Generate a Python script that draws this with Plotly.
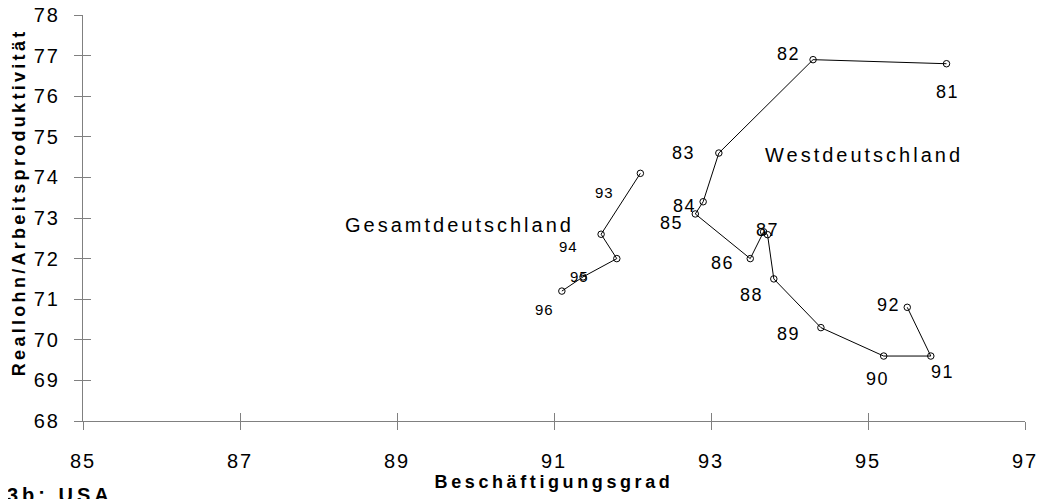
import plotly.graph_objects as go

# ---- data ----
west_years = ["81", "82", "83", "84", "85", "86", "87", "", "88", "89", "90", "91", "92"]
west_x = [96.0, 94.3, 93.1, 92.9, 92.8, 93.5, 93.67, 93.72, 93.8, 94.4, 95.2, 95.8, 95.5]
west_y = [76.8, 76.9, 74.6, 73.4, 73.1, 72.0, 72.66, 72.59, 71.5, 70.3, 69.6, 69.6, 70.8]

gesamt_years = ["93", "94", "", "95", "96"]
gesamt_x = [92.1, 91.6, 91.8, 91.37, 91.1]
gesamt_y = [74.1, 72.6, 72.0, 71.55, 71.2]

x_ticks = [85, 87, 89, 91, 93, 95, 97]
y_ticks = [68, 69, 70, 71, 72, 73, 74, 75, 76, 77, 78]

# ---- label offsets (pixels, dx right, dy down) ----
west_offsets = [(1, 28), (-25, -6), (-35, 0), (-19, 4), (-24, 9), (-28, 4), (4, -2), (0, 0),
                (-22, 16), (-32, 6), (-6, 23), (12, 16), (-19, -2)]
gesamt_offsets = [(-36, 19), (-33, 12), (0, 0), (-4, 0), (-17, 18)]

FONT = "Liberation Sans, Arial, sans-serif"
AXIS_GRAY = "#808080"


def spaced(text, px):
    return f'<span style="letter-spacing:{px}px">{text}</span>'


fig = go.Figure()

line_style = dict(color="black", width=1)
marker_style = dict(symbol="circle-open", size=6.5, color="black", line=dict(width=1, color="black"))

fig.add_trace(go.Scatter(x=west_x, y=west_y, mode="lines+markers", line=line_style,
                         marker=marker_style, showlegend=False, hoverinfo="skip"))
fig.add_trace(go.Scatter(x=gesamt_x, y=gesamt_y, mode="lines+markers", line=line_style,
                         marker=marker_style, showlegend=False, hoverinfo="skip"))
# invisible copy on overlay axes (inside ticks so ticks cross the axis line)
fig.add_trace(go.Scatter(x=west_x, y=west_y, mode="markers", marker=dict(opacity=0),
                         xaxis="x2", yaxis="y2", showlegend=False, hoverinfo="skip"))

annotations = []
for yr, xv, yv, (dx, dy) in zip(west_years, west_x, west_y, west_offsets):
    if yr:
        annotations.append(dict(x=xv, y=yv, text=spaced(yr, 1.5), showarrow=False,
                                xshift=dx, yshift=-dy,
                                font=dict(family=FONT, size=18, color="black")))
for yr, xv, yv, (dx, dy) in zip(gesamt_years, gesamt_x, gesamt_y, gesamt_offsets):
    if yr:
        annotations.append(dict(x=xv, y=yv, text=spaced(yr, 1), showarrow=False,
                                xshift=dx, yshift=-dy,
                                font=dict(family=FONT, size=15, color="black")))

annotations.append(dict(x=94.95, y=74.56, text=spaced("Westdeutschland", 3), showarrow=False,
                        font=dict(family=FONT, size=20, color="black")))
annotations.append(dict(x=89.8, y=72.84, text=spaced("Gesamtdeutschland", 3), showarrow=False,
                        font=dict(family=FONT, size=20, color="black")))
annotations.append(dict(xref="paper", yref="paper", x=-0.083, y=-0.150, xanchor="left", yanchor="top",
                        text=spaced("3b: USA", 4), showarrow=False,
                        font=dict(family=FONT, size=20, color="black", weight="bold")))
# y-axis title (placed slightly above the plot centre, as in the reference)
annotations.append(dict(xref="paper", yref="paper", x=-0.0685, y=0.54, textangle=-90,
                        xanchor="center", yanchor="middle",
                        text=spaced("Reallohn/Arbeitsproduktivität", 3.3), showarrow=False,
                        font=dict(family=FONT, size=18, color="black", weight="bold")))

axis_common = dict(showgrid=False, zeroline=False, automargin=False)

fig.update_layout(
    width=1036, height=491,
    margin=dict(l=75, r=19, t=7, b=78),
    paper_bgcolor="white", plot_bgcolor="white",
    font=dict(family=FONT, color="black"),
    xaxis=dict(range=[85, 97], tickvals=x_ticks, ticktext=[spaced(str(v), 2) for v in x_ticks],
               showline=True, linecolor=AXIS_GRAY, linewidth=1,
               ticks="outside", ticklen=8, tickcolor=AXIS_GRAY, tickwidth=1,
               ticklabelstandoff=14, ticklabeloverflow="allow",
               tickfont=dict(family=FONT, size=20, color="black"),
               title=dict(text=spaced("Beschäftigungsgrad", 3.6), standoff=0,
                          font=dict(family=FONT, size=18, color="black", weight="bold")),
               **axis_common),
    yaxis=dict(range=[68, 78], tickvals=y_ticks, ticktext=[spaced(str(v), 2) for v in y_ticks],
               showline=True, linecolor=AXIS_GRAY, linewidth=1,
               ticks="outside", ticklen=8, tickcolor=AXIS_GRAY, tickwidth=1,
               ticklabelstandoff=10, ticklabeloverflow="allow",
               tickfont=dict(family=FONT, size=20, color="black"),
               **axis_common),
    xaxis2=dict(range=[85, 97], tickvals=x_ticks, overlaying="x", anchor="y2",
                ticks="inside", ticklen=8, tickcolor=AXIS_GRAY, tickwidth=1,
                showticklabels=False, showline=False, **axis_common),
    yaxis2=dict(range=[68, 78], tickvals=y_ticks, overlaying="y", anchor="x2",
                ticks="inside", ticklen=8, tickcolor=AXIS_GRAY, tickwidth=1,
                showticklabels=False, showline=False, **axis_common),
    annotations=annotations,
)

fig.write_html("out.html")
